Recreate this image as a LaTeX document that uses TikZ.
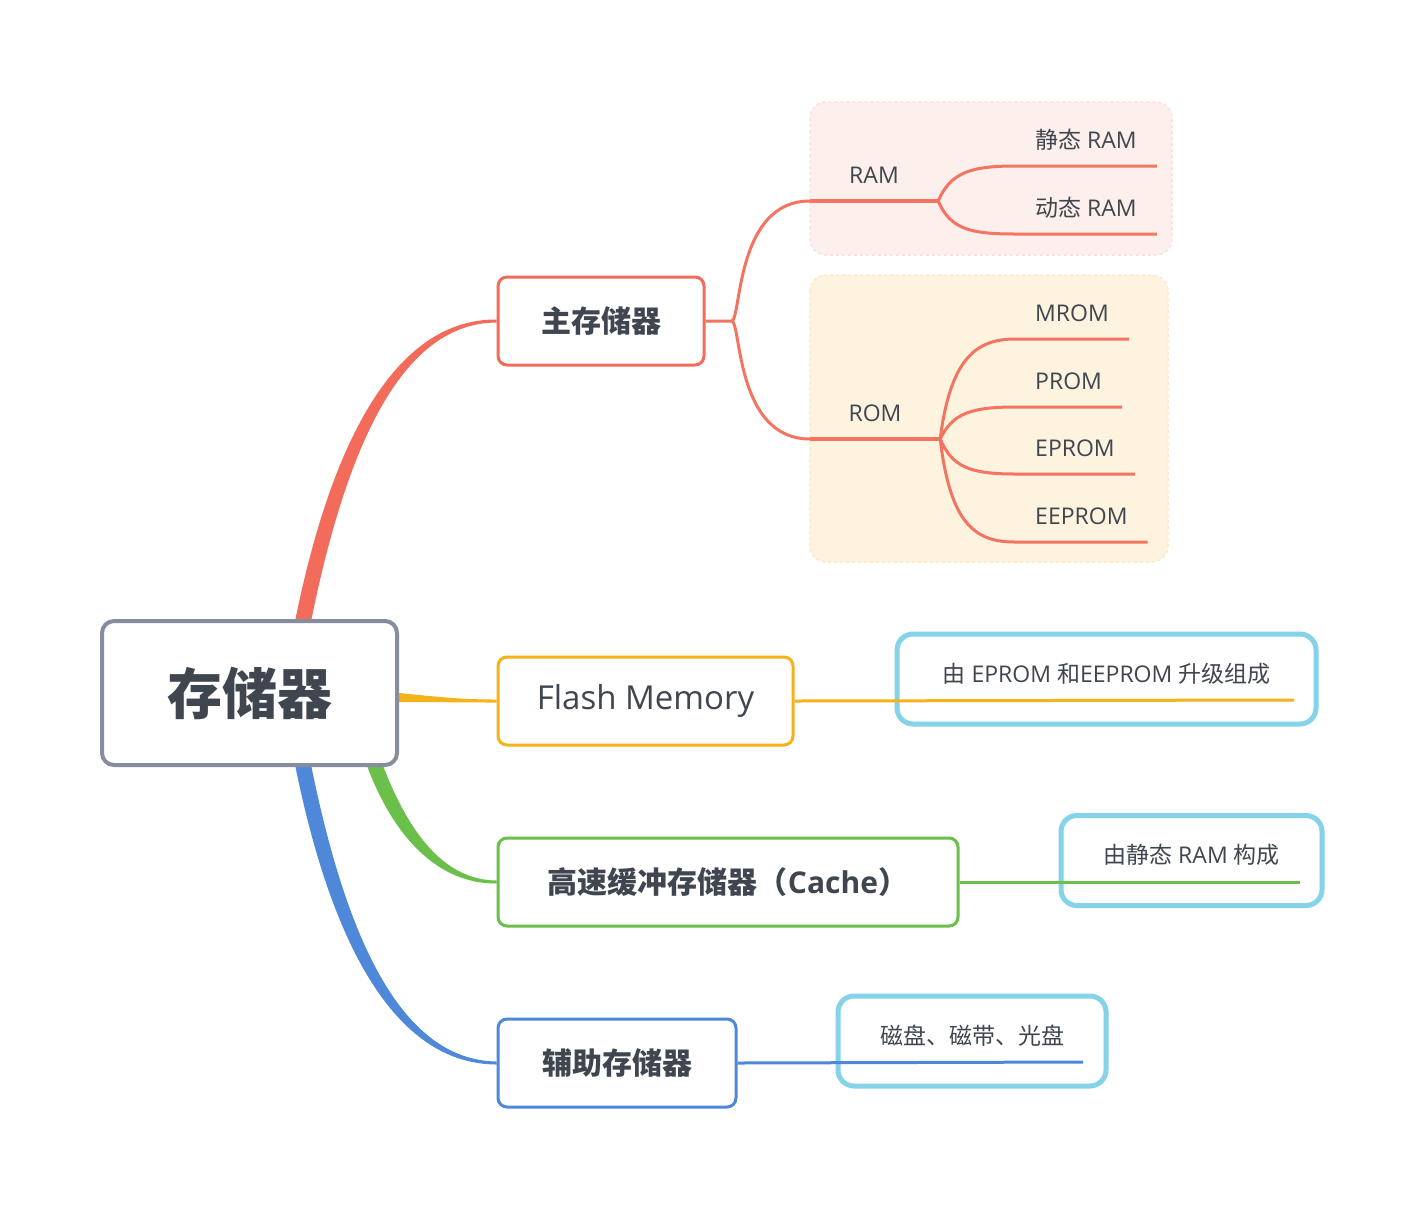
\documentclass[tikz,border=0pt]{standalone}
\usepackage{fontspec}
\setmainfont{Open Sans}
\newfontfamily\cjk{Noto Sans CJK SC}
\usetikzlibrary{backgrounds}

\definecolor{ink}{HTML}{3F4650}
\definecolor{rootgray}{HTML}{868E9E}
\definecolor{topred}{HTML}{F26B5B}
\definecolor{twigred}{HTML}{F37460}
\definecolor{flashorange}{HTML}{F6B21A}
\definecolor{cachegreen}{HTML}{6BC04B}
\definecolor{auxblue}{HTML}{4F88D9}
\definecolor{notecol}{HTML}{84D3E8}
\definecolor{ramfill}{HTML}{FCEFEC}
\definecolor{ramedge}{HTML}{F8E2DE}
\definecolor{romfill}{HTML}{FDF3DF}
\definecolor{romedge}{HTML}{FAEACB}

\begin{document}
\begin{tikzpicture}[x=1pt,y=-1pt,
        topic/.style={draw, rounded corners=9pt, line width=3pt, fill=white, text=ink,
            inner sep=0pt, minimum height=88pt, font=\fontsize{30}{36}\selectfont\bfseries},
        note/.style={draw=notecol, rounded corners=16pt, line width=5pt, fill=white, text=ink,
            inner sep=0pt, minimum height=90pt, text height=18pt, text depth=12pt,
            font=\fontsize{23}{28}\selectfont},
        sub/.style={anchor=south, text=ink, inner xsep=0pt, inner ysep=17pt, text depth=0pt,
            font=\fontsize{23}{28}\selectfont},
        leaf/.style={sub, anchor=south west, inner xsep=20pt},
        twig/.style={draw=twigred, line width=3pt}
    ]
        \useasboundingbox (0,0) rectangle (1420,1208);

        % areas behind RAM and ROM
        \draw[ramedge, dashed, line width=1.5pt, rounded corners=16pt, fill=ramfill] (810,102) rectangle (1172,255);
        \draw[romedge, dashed, line width=1.5pt, rounded corners=16pt, fill=romfill] (810,275) rectangle (1168,562);

        \node[draw=rootgray, line width=4pt, rounded corners=12pt, fill=white, text=ink,
            minimum width=295pt, minimum height=144pt,
            font=\fontsize{55}{60}\selectfont\bfseries] (root) at (249.5,693) {\cjk 存储器};

        \node[topic, draw=topred, minimum width=206pt] (main) at (601,321) {\cjk 主存储器};
        \node[topic, draw=flashorange, minimum width=295pt,
            font=\fontsize{33}{38}\selectfont] (flash) at (645.5,701) {Flash Memory};
        \node[topic, draw=cachegreen, minimum width=460pt] (cache) at (728,882)
            {{\cjk 高速缓冲存储器（}Cache{\cjk ）}};
        \node[topic, draw=auxblue, minimum width=238pt] (aux) at (617,1063) {\cjk 辅助存储器};

        \begin{pgfonlayer}{background}
            \fill[white] (0,0) rectangle (1420,1208);
            \fill[topred] ([xshift=46pt]root.north) .. controls (334,430) and (400,319) .. ([yshift=1.5pt]main.west)
                -- ([yshift=-1.5pt]main.west) .. controls (404,323) and (348,440) .. ([xshift=62pt]root.north) -- cycle;
            \fill[flashorange] ([yshift=0pt]root.east) .. controls (440,697) and (460,699.5) .. ([yshift=1.5pt]flash.west)
                -- ([yshift=-1.5pt]flash.west) .. controls (460,702.5) and (440,702) .. ([yshift=-9pt]root.east) -- cycle;
            \fill[cachegreen] ([xshift=118pt]root.south) .. controls (395,840) and (440,884) .. ([yshift=-1.5pt]cache.west)
                -- ([yshift=1.5pt]cache.west) .. controls (445,880) and (410,835) .. ([xshift=134pt]root.south) -- cycle;
            \fill[auxblue] ([xshift=46pt]root.south) .. controls (334,956) and (400,1064) .. ([yshift=-1.5pt]aux.west)
                -- ([yshift=1.5pt]aux.west) .. controls (404,1060) and (348,946) .. ([xshift=62pt]root.south) -- cycle;
        \end{pgfonlayer}

        % RAM / ROM
        \node[sub, minimum width=128pt] (ram) at (874,201) {RAM};
        \node[sub, minimum width=130pt] (rom) at (875,439) {ROM};
        \node[leaf] (sram) at (1015,166) {{\cjk 静态} RAM};
        \node[leaf] (dram) at (1015,234) {{\cjk 动态} RAM};
        \node[leaf] (mrom) at (1015,339) {MROM};
        \node[leaf] (prom) at (1015,407) {PROM};
        \node[leaf] (eprom) at (1015,474) {EPROM};
        \node[leaf] (eeprom) at (1015,542) {EEPROM};

        \draw[twig] (main.east) -- ++(26,0) coordinate (fork) .. controls +(10,0) and +(-75,0) .. (ram.south west);
        \draw[twig] (fork) .. controls +(10,0) and +(-75,0) .. (rom.south west);
        \draw[twig, line width=4pt] (ram.south west) -- (ram.south east);
        \draw[twig, line width=3.5pt] (rom.south west) -- (rom.south east);
        \draw[twig] (ram.south east) .. controls +(12,-28) and +(-45,0) .. (sram.south west) -- (sram.south east);
        \draw[twig] (ram.south east) .. controls +(12,28) and +(-45,0) .. (dram.south west) -- (dram.south east);
        \draw[twig] (rom.south east) .. controls +(10,-79) and +(-40,0) .. (mrom.south west) -- (mrom.south east);
        \draw[twig] (rom.south east) .. controls +(12,-25) and +(-45,0) .. (prom.south west) -- (prom.south east);
        \draw[twig] (rom.south east) .. controls +(12,28) and +(-45,0) .. (eprom.south west) -- (eprom.south east);
        \draw[twig] (rom.south east) .. controls +(10,85) and +(-40,0) .. (eeprom.south west) -- (eeprom.south east);

        % notes
        \node[note, minimum width=419pt] (fdesc) at (1106.5,679)
            {{\cjk 由} EPROM {\cjk 和}EEPROM {\cjk 升级组成}};
        \node[note, minimum width=261pt] (cdesc) at (1191.5,860.5) {{\cjk 由静态} RAM {\cjk 构成}};
        \node[note, minimum width=268pt] (adesc) at (972,1041) {\cjk 磁盘、磁带、光盘};

        \coordinate (fend) at (1294,700);
        \coordinate (cend) at (1300,882);
        \coordinate (aend) at (1083,1062);
        \draw[flashorange, line width=3pt] (flash.east) -- (fend);
        \draw[cachegreen, line width=3pt] (cache.east) -- (cend);
        \draw[auxblue, line width=3pt] (aux.east) -- (aend);
    \end{tikzpicture}
\end{document}
